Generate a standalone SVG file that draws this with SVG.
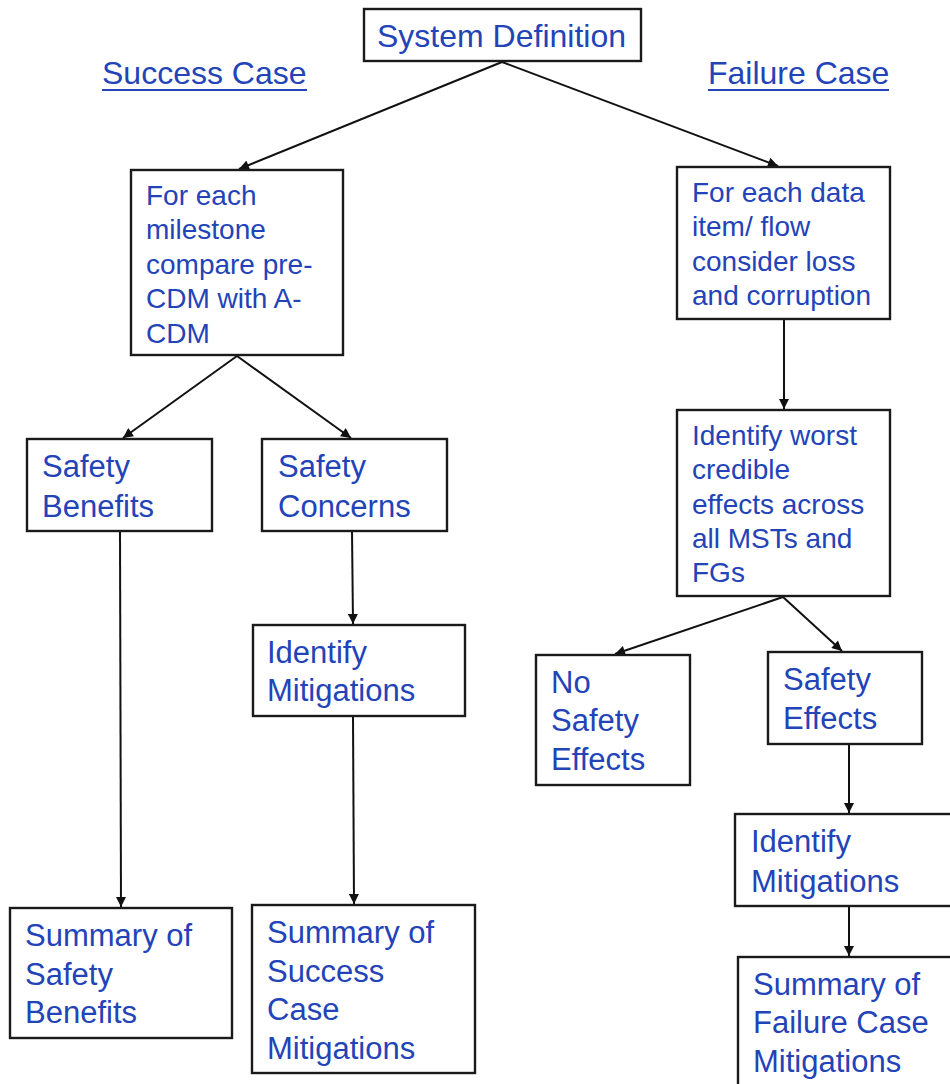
<svg xmlns="http://www.w3.org/2000/svg" width="950" height="1084" viewBox="0 0 950 1084">
<defs>
<marker id="arr" viewBox="0 0 10 10" refX="10" refY="5" markerWidth="11" markerHeight="10" markerUnits="userSpaceOnUse" orient="auto">
<path d="M0,0 L10,5 L0,10 z" fill="#111"/>
</marker>
<style>
.box{fill:#fff;stroke:#1a1a1a;stroke-width:2.4}
.t{font-family:"Liberation Sans",Arial,sans-serif;fill:#2343b8}
.s28{font-size:28px}
.s31{font-size:31px}
.s32{font-size:32px}
.ul{stroke:#2343b8;stroke-width:2}
.c{stroke:#111;stroke-width:2;fill:none;marker-end:url(#arr)}
</style>
</defs>
<rect width="950" height="1084" fill="#fff"/>

<g id="connectors">
<line class="c" x1="502" y1="62" x2="239" y2="169"/>
<line class="c" x1="502" y1="62" x2="778" y2="166"/>
<line class="c" x1="237" y1="356" x2="123" y2="438"/>
<line class="c" x1="237" y1="356" x2="351" y2="438"/>
<line class="c" x1="120" y1="531" x2="121" y2="907"/>
<line class="c" x1="352" y1="531" x2="353" y2="624"/>
<line class="c" x1="353" y1="717" x2="354" y2="904"/>
<line class="c" x1="784" y1="320" x2="784" y2="409"/>
<line class="c" x1="783" y1="597" x2="615" y2="654"/>
<line class="c" x1="783" y1="597" x2="842" y2="651"/>
<line class="c" x1="849" y1="745" x2="849" y2="813"/>
<line class="c" x1="849" y1="907" x2="849" y2="956"/>
</g>

<g id="system-definition">
<rect class="box" x="364" y="9" width="277" height="52"/>
<text class="t s32" x="377" y="47">System Definition</text>
</g>

<g id="success-case-label">
<text class="t s32" x="102" y="84">Success Case</text>
<line class="ul" x1="102" y1="90" x2="307" y2="90"/>
</g>

<g id="failure-case-label">
<text class="t s32" x="708" y="84">Failure Case</text>
<line class="ul" x1="708" y1="90" x2="889" y2="90"/>
</g>

<g id="compare-milestone">
<rect class="box" x="131" y="170" width="212" height="185"/>
<text class="t s28" x="146"><tspan x="146" y="205">For each</tspan><tspan x="146" y="239.3">milestone</tspan><tspan x="146" y="273.6">compare pre-</tspan><tspan x="146" y="308">CDM with A-</tspan><tspan x="146" y="342.5">CDM</tspan></text>
</g>

<g id="data-item-flow">
<rect class="box" x="677" y="167" width="213" height="152"/>
<text class="t s28" x="692"><tspan x="692" y="201.5">For each data</tspan><tspan x="692" y="236">item/ flow</tspan><tspan x="692" y="270.5">consider loss</tspan><tspan x="692" y="305">and corruption</tspan></text>
</g>

<g id="safety-benefits">
<rect class="box" x="27" y="439" width="185" height="92"/>
<text class="t s31" x="42"><tspan x="42" y="477">Safety</tspan><tspan x="42" y="517">Benefits</tspan></text>
</g>

<g id="safety-concerns">
<rect class="box" x="262" y="439" width="185" height="92"/>
<text class="t s31" x="278"><tspan x="278" y="477">Safety</tspan><tspan x="278" y="517">Concerns</tspan></text>
</g>

<g id="identify-mitigations-success">
<rect class="box" x="253" y="625" width="212" height="91"/>
<text class="t s31" x="267"><tspan x="267" y="663">Identify</tspan><tspan x="267" y="701">Mitigations</tspan></text>
</g>

<g id="worst-credible-effects">
<rect class="box" x="677" y="410" width="213" height="186"/>
<text class="t s28" x="692"><tspan x="692" y="445">Identify worst</tspan><tspan x="692" y="479">credible</tspan><tspan x="692" y="513.5">effects across</tspan><tspan x="692" y="548">all MSTs and</tspan><tspan x="692" y="582">FGs</tspan></text>
</g>

<g id="no-safety-effects">
<rect class="box" x="536" y="655" width="154" height="130"/>
<text class="t s31" x="551"><tspan x="551" y="693">No</tspan><tspan x="551" y="731">Safety</tspan><tspan x="551" y="770">Effects</tspan></text>
</g>

<g id="safety-effects">
<rect class="box" x="768" y="652" width="154" height="92"/>
<text class="t s31" x="783"><tspan x="783" y="690">Safety</tspan><tspan x="783" y="729">Effects</tspan></text>
</g>

<g id="identify-mitigations-failure">
<rect class="box" x="735" y="814" width="230" height="92"/>
<text class="t s31" x="751"><tspan x="751" y="852">Identify</tspan><tspan x="751" y="892">Mitigations</tspan></text>
</g>

<g id="summary-safety-benefits">
<rect class="box" x="10" y="908" width="222" height="130"/>
<text class="t s31" x="25"><tspan x="25" y="946">Summary of</tspan><tspan x="25" y="985">Safety</tspan><tspan x="25" y="1023">Benefits</tspan></text>
</g>

<g id="summary-success-mitigations">
<rect class="box" x="252" y="905" width="223" height="168"/>
<text class="t s31" x="267"><tspan x="267" y="943">Summary of</tspan><tspan x="267" y="982">Success</tspan><tspan x="267" y="1020">Case</tspan><tspan x="267" y="1059">Mitigations</tspan></text>
</g>

<g id="summary-failure-mitigations">
<rect class="box" x="738" y="957" width="230" height="150"/>
<text class="t s31" x="753"><tspan x="753" y="995">Summary of</tspan><tspan x="753" y="1033">Failure Case</tspan><tspan x="753" y="1072">Mitigations</tspan></text>
</g>
</svg>
